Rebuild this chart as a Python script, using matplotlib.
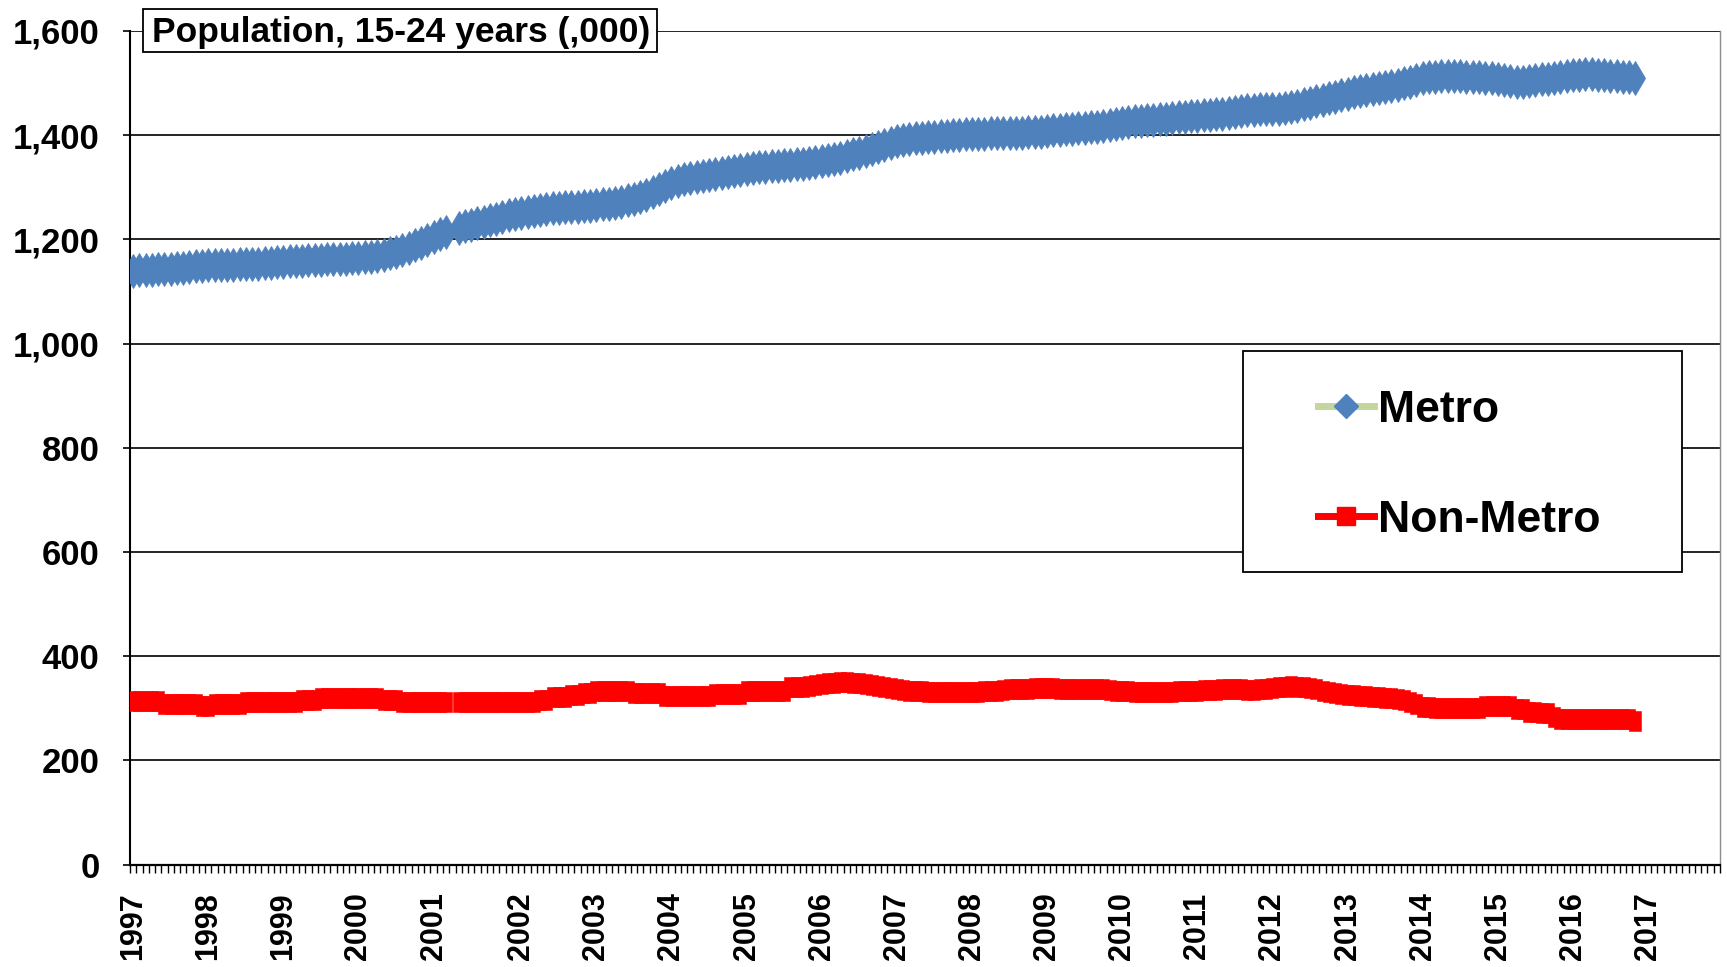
import numpy as np
import matplotlib
matplotlib.use("Agg")
import matplotlib.pyplot as plt
from matplotlib.lines import Line2D
from matplotlib.patches import Rectangle
from matplotlib.ticker import FuncFormatter

# ---------------- data (thousands, monthly; 2001 block holds a 1-slot break) ----------------
years = [str(y) for y in range(1997, 2018)]
slots_per_year = [12, 12, 12, 12, 14] + [12] * 16   # 2001 block: 13 values + 1 blank slot

nan = np.nan
metro = [
    [1140, 1141, 1142, 1142, 1143, 1143, 1144, 1145, 1146, 1147, 1148, 1149],  # 1997
    [1150, 1150, 1151, 1151, 1151, 1152, 1152, 1153, 1153, 1154, 1155, 1156],  # 1998
    [1157, 1158, 1158, 1159, 1160, 1160, 1161, 1162, 1162, 1163, 1163, 1164],  # 1999
    [1165, 1166, 1167, 1168, 1170, 1173, 1176, 1180, 1184, 1189, 1194, 1199],  # 2000
    [1205, 1210, 1215, nan, 1222, 1225, 1228, 1231, 1234, 1237, 1240, 1243, 1246, 1249],  # 2001
    [1251, 1253, 1255, 1257, 1259, 1260, 1261, 1262, 1263, 1263, 1264, 1264],  # 2002
    [1266, 1267, 1268, 1270, 1272, 1275, 1278, 1282, 1286, 1291, 1296, 1302],  # 2003
    [1308, 1312, 1315, 1318, 1320, 1322, 1324, 1326, 1328, 1330, 1332, 1334],  # 2004
    [1336, 1337, 1338, 1339, 1340, 1341, 1342, 1343, 1344, 1345, 1346, 1348],  # 2005
    [1350, 1352, 1354, 1357, 1360, 1363, 1366, 1369, 1373, 1377, 1381, 1385],  # 2006
    [1388, 1390, 1392, 1394, 1395, 1396, 1397, 1398, 1399, 1400, 1401, 1402],  # 2007
    [1402, 1403, 1403, 1404, 1404, 1404, 1404, 1405, 1405, 1406, 1406, 1407],  # 2008
    [1408, 1409, 1410, 1411, 1412, 1413, 1414, 1415, 1416, 1418, 1420, 1422],  # 2009
    [1424, 1426, 1427, 1428, 1429, 1430, 1431, 1432, 1433, 1434, 1435, 1436],  # 2010
    [1437, 1438, 1439, 1440, 1441, 1443, 1445, 1447, 1448, 1449, 1450, 1450],  # 2011
    [1450, 1451, 1452, 1454, 1456, 1459, 1462, 1465, 1468, 1471, 1474, 1477],  # 2012
    [1480, 1483, 1485, 1487, 1489, 1491, 1493, 1495, 1497, 1500, 1503, 1506],  # 2013
    [1509, 1511, 1512, 1513, 1513, 1513, 1513, 1512, 1512, 1511, 1510, 1509],  # 2014
    [1507, 1505, 1504, 1503, 1503, 1504, 1505, 1507, 1508, 1510, 1511, 1513],  # 2015
    [1515, 1516, 1517, 1517, 1516, 1515, 1514, 1513, 1512, 1511, 1510],        # 2016
]

non_metro = [
    [313, 313, 313, 313, 313, 309, 309, 309, 309, 309, 309, 305],  # 1997
    [305, 309, 309, 309, 309, 309, 312, 312, 312, 312, 312, 312],  # 1998
    [312, 312, 312, 316, 316, 316, 319, 319, 319, 319, 319, 319],  # 1999
    [319, 319, 319, 319, 316, 316, 316, 312, 312, 312, 312, 312],  # 2000
    [312, 312, 312, nan, 312, 312, 312, 312, 312, 312, 312, 312, 312, 312],  # 2001
    [312, 312, 312, 315, 315, 322, 322, 322, 326, 326, 330, 330],  # 2002
    [334, 334, 334, 334, 334, 334, 330, 330, 330, 330, 330, 324],  # 2003
    [324, 324, 324, 324, 324, 324, 324, 328, 328, 328, 328, 328],  # 2004
    [334, 334, 334, 334, 334, 334, 334, 341, 341, 341, 343, 345],  # 2005
    [347, 348, 349, 350, 350, 349, 348, 346, 344, 342, 340, 338],  # 2006
    [336, 335, 334, 333, 333, 332, 332, 332, 332, 332, 332, 332],  # 2007
    [332, 332, 333, 333, 334, 335, 336, 337, 337, 337, 338, 338],  # 2008
    [338, 338, 337, 337, 336, 336, 336, 337, 337, 336, 335, 334],  # 2009
    [333, 333, 332, 332, 332, 332, 332, 332, 332, 333, 333, 334],  # 2010
    [334, 335, 335, 335, 336, 336, 336, 336, 335, 335, 336, 337],  # 2011
    [339, 340, 341, 342, 341, 340, 338, 336, 334, 332, 330, 328],  # 2012
    [326, 325, 324, 323, 322, 321, 320, 319, 317, 315, 312, 308],  # 2013
    [303, 303, 300, 300, 300, 300, 300, 300, 300, 300, 304, 304],  # 2014
    [304, 304, 304, 299, 299, 293, 293, 291, 291, 284, 280, 280],  # 2015
    [279, 279, 279, 279, 279, 279, 279, 279, 279, 279, 276],       # 2016
]

title = "Population, 15-24 years (,000)"
series_names = ["Metro", "Non-Metro"]
y_ticks = [0, 200, 400, 600, 800, 1000, 1200, 1400, 1600]

# ---------------- styling ----------------
FONT = "Liberation Sans"
plt.rcParams["font.family"] = [FONT, "DejaVu Sans"]
plt.rcParams["font.weight"] = "bold"

W, H = 1727, 967
fig = plt.figure(figsize=(W / 100, H / 100), dpi=100)
ax_l, ax_r, ax_t, ax_b = 130, 1720, 31, 864.5
ax = fig.add_axes([ax_l / W, 1 - ax_b / H, (ax_r - ax_l) / W, (ax_b - ax_t) / H])

metro_flat = np.array([v for yr in metro for v in yr], dtype=float)
non_flat = np.array([v for yr in non_metro for v in yr], dtype=float)
x_m = np.arange(len(metro_flat))
x_n = np.arange(len(non_flat))
n_cat = int(sum(slots_per_year))
year_pos = np.concatenate([[0], np.cumsum(slots_per_year)[:-1]])

blue = "#4F81BD"
green = "#C3D69B"
red = "#FF0000"
tall_rect = [(-0.3, -0.5), (0.3, -0.5), (0.3, 0.5), (-0.3, 0.5), (-0.3, -0.5)]

ax.plot(x_m, metro_flat, color=green, lw=5, marker="d", ms=17,
        mfc=blue, mec=blue, mew=0.6, zorder=4)
ax.plot(x_n, non_flat, color=red, lw=5, marker=tall_rect, ms=14,
        mfc=red, mec=red, mew=0.4, zorder=4)

ax.set_xlim(-0.5, n_cat - 0.5)
ax.set_ylim(0, 1600)
ax.set_yticks(y_ticks)
ax.yaxis.set_major_formatter(FuncFormatter(lambda v, p: f"{int(v):,}"))
ax.set_xticks(year_pos, labels=years)
ax.set_xticks(np.arange(-0.5, n_cat, 1.0), minor=True)

ax.tick_params(axis="x", which="minor", length=6, width=1.0, direction="out", color="black")
ax.tick_params(axis="y", which="major", length=5, width=1.2, pad=17, labelsize=25,
               direction="out", color="black")
ax.tick_params(axis="x", which="major", length=0, pad=20, labelsize=22, labelrotation=90)
for lab in ax.get_yticklabels() + ax.get_xticklabels():
    lab.set_fontweight("bold")

ax.grid(axis="y", color="black", lw=1.2, zorder=1)
ax.set_axisbelow(True)
ax.spines["top"].set_visible(False)
ax.spines["right"].set_color("#8c8c8c")
ax.spines["right"].set_linewidth(1.0)
ax.spines["left"].set_linewidth(1.5)
ax.spines["bottom"].set_linewidth(1.6)

# title box
fig.patches.append(Rectangle((143 / W, 1 - 52 / H), (657 - 143) / W, (52 - 9) / H,
                             transform=fig.transFigure, facecolor="white",
                             edgecolor="black", lw=1.3, zorder=5))
fig.text(152 / W, 1 - 42 / H, title, fontsize=25.5, fontweight="bold",
         ha="left", va="baseline", zorder=6, family=[FONT, "DejaVu Sans"])

# legend box
fig.patches.append(Rectangle((1243 / W, 1 - 572 / H), (1682 - 1243) / W, (572 - 351) / H,
                             transform=fig.transFigure, facecolor="white",
                             edgecolor="black", lw=1.3, zorder=5))
handles = [
    Line2D([], [], color=green, lw=5, marker="D", ms=12.5, mfc=blue, mec=blue),
    Line2D([], [], color=red, lw=5, marker="s", ms=12.5, mfc=red, mec=red),
]
leg = fig.legend(handles, series_names, loc="upper left",
                 bbox_to_anchor=(1318 / W, 1 - 390 / H), bbox_transform=fig.transFigure,
                 frameon=False, borderpad=0, borderaxespad=0, handlelength=1.25,
                 handletextpad=0.1, labelspacing=1.55,
                 prop={"family": FONT, "weight": "bold", "size": 32})
leg.set_zorder(7)

fig.savefig("out.png", dpi=100)
